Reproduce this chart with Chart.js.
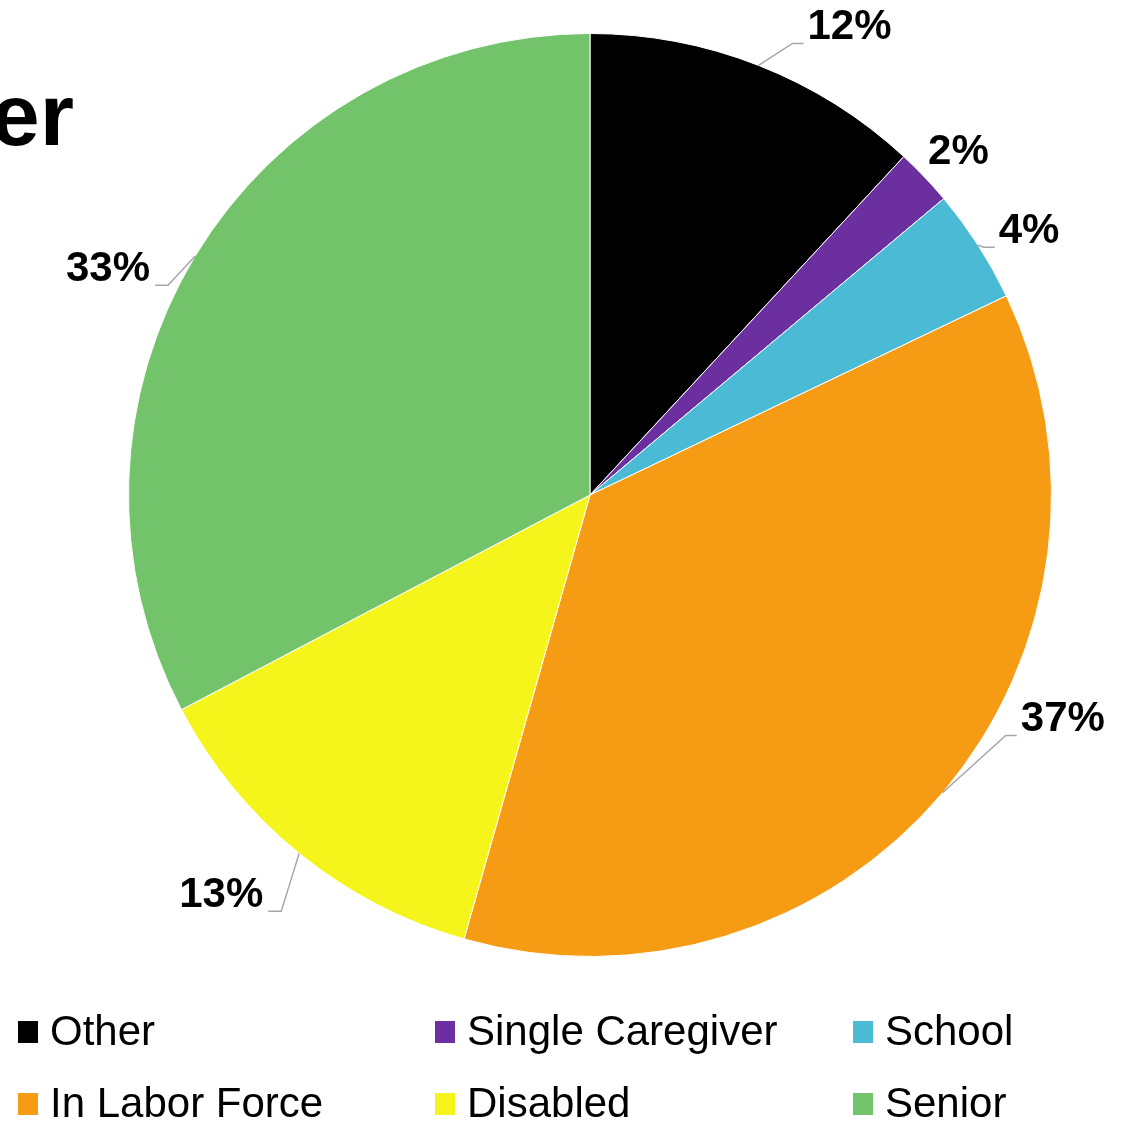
<!DOCTYPE html>
<html>
<head>
<meta charset="utf-8">
<script src="https://cdn.jsdelivr.net/npm/chart.js@4.4.1/dist/chart.umd.min.js"></script>
<style>
  html, body { margin: 0; padding: 0; background: #fff; }
  #wrap { width: 1124px; height: 1122px; position: relative; }
</style>
</head>
<body>
<div id="wrap"><canvas id="pieChart" width="1124" height="1122"></canvas></div>
<script>
const categories = ['Other', 'Single Caregiver', 'School', 'In Labor Force', 'Disabled', 'Senior'];
const shares = [11.9, 2.0, 4.0, 36.5, 12.9, 32.7];
const colores = ['#000000', '#6b2fa0', '#4bbad4', '#f59b14', '#f6f51b', '#73c36b'];

// desplazamiento de cada etiqueta respecto al borde del sector (dx, dy, con linea guia?)
const labelOffsets = [[91, -38, true], [34, -25, false], [51, -14, true], [120, -73, true], [-78, 42, true], [-87, 13, true]];
const legendCols = [18, 435, 853];
const legendRows = [1032, 1104];

const fontName = '"Liberation Sans", Arial, sans-serif';

const pieLabels = {
  id: 'pieLabels',
  afterDraw(chart) {
    const c = chart.ctx;
    const arcs = chart.getDatasetMeta(0).data;
    const total = shares.reduce((a, b) => a + b, 0);
    c.save();
    c.font = 'bold 42px ' + fontName;
    c.textBaseline = 'middle';
    c.textAlign = 'center';
    arcs.forEach((arc, i) => {
      const mid = (arc.startAngle + arc.endAngle) / 2;
      const px = arc.x + Math.cos(mid) * arc.outerRadius;
      const py = arc.y + Math.sin(mid) * arc.outerRadius;
      const off = labelOffsets[i];
      const lx = px + off[0], ly = py + off[1];
      const txt = Math.round(shares[i] / total * 100) + '%';
      const w = c.measureText(txt).width;
      if (off[2]) {
        const bottom = ly + 16;
        c.strokeStyle = '#a6a6a6';
        c.lineWidth = 1.5;
        c.beginPath();
        c.moveTo(px, py);
        if (off[0] > 0) {
          const left = lx - w / 2;
          c.lineTo(Math.max(px, left - 15), bottom);
          c.lineTo(left - 4, bottom);
        } else {
          const right = lx + w / 2;
          c.lineTo(Math.min(px, right + 18), bottom);
          c.lineTo(right + 5, bottom);
        }
        c.stroke();
      }
      c.fillStyle = '#000';
      c.fillText(txt, lx, ly);
    });

    // leyenda
    c.font = '42px ' + fontName;
    c.textAlign = 'left';
    categories.forEach((name, i) => {
      const x = legendCols[i % 3];
      const y = legendRows[Math.floor(i / 3)];
      c.fillStyle = colores[i];
      c.fillRect(x, y - 11, 20, 22);
      c.fillStyle = '#000';
      c.fillText(name, x + 32, y + 1);
    });

    // titulo recortado
    c.font = 'bold 88px ' + fontName;
    c.textAlign = 'right';
    c.textBaseline = 'alphabetic';
    c.fillText('er', 74, 145);
    c.restore();
  }
};

const ctx = document.getElementById('pieChart');

new Chart(ctx, {
  type: 'pie',
  data: {
    labels: categories,
    datasets: [{
      data: shares,
      backgroundColor: colores,
      borderColor: '#fff',
      borderWidth: 1
    }]
  },
  options: {
    responsive: false,
    animation: false,
    layout: { padding: { left: 128, right: 72, top: 33, bottom: 165 } },
    plugins: {
      legend: { display: false },
      tooltip: { enabled: false }
    }
  },
  plugins: [pieLabels]
});
</script>
</body>
</html>
